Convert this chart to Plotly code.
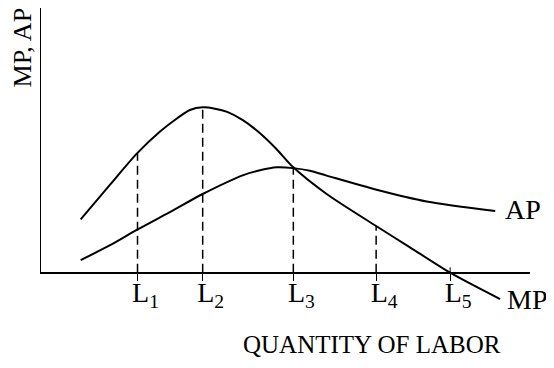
"""
Marginal product (MP) and average product (AP) of labor, drawn as the
classic textbook diagram: MP peaks first, cuts AP at AP's maximum, and
then falls through zero.
"""

import plotly.graph_objects as go

# quantity of labor (x) and product (y), in arbitrary chart units
MP_X = [0.83, 1.43, 1.99, 2.45, 2.80, 3.06, 3.32, 3.57, 3.82, 4.14, 4.49,
        4.83, 5.17, 5.85, 6.86, 7.55, 8.37, 9.39]
MP_Y = [2.00, 3.30, 4.49, 5.29, 5.79, 6.10, 6.20, 6.15, 6.03, 5.72, 5.23,
        4.63, 3.95, 2.95, 1.75, 0.95, 0.00, -0.99]

AP_X = [0.83, 1.43, 1.99, 2.65, 3.32, 4.15, 4.49, 4.83, 5.17, 5.51, 5.85,
        6.87, 7.89, 9.29]
AP_Y = [0.47, 1.03, 1.62, 2.27, 2.95, 3.66, 3.84, 3.95, 3.92, 3.82, 3.64,
        3.11, 2.67, 2.31]

L_TICKS = [1.99, 3.32, 5.17, 6.86, 8.37]
L_LABELS = ["L<sub>1</sub>", "L<sub>2</sub>", "L<sub>3</sub>", "L<sub>4</sub>", "L<sub>5</sub>"]
# MP read at L1..L4, where the dashed drop lines start
DROP_Y = [4.49, 6.20, 3.95, 1.75]

X_RANGE = [0, 10]
Y_RANGE = [-1.10, 9.925]

FONT = "Liberation Serif, Times New Roman, serif"
INK = "black"

# the page body keeps its default 8px margin; keep the figure small
# enough that the window never scrolls
FIG_W, FIG_H = 538, 352


def drop_lines():
    xs, ys = [], []
    for x, y in zip(L_TICKS, DROP_Y):
        xs += [x, x, None]
        ys += [0, y, None]
    return xs, ys


fig = go.Figure()

dx, dy = drop_lines()
fig.add_trace(go.Scatter(
    x=dx, y=dy, mode="lines",
    line=dict(color=INK, width=1.5, dash="9px,5px"),
    hoverinfo="skip", showlegend=False,
))
fig.add_trace(go.Scatter(
    x=MP_X, y=MP_Y, mode="lines", name="MP",
    line=dict(color=INK, width=2, shape="spline", smoothing=0.8),
    showlegend=False,
))
fig.add_trace(go.Scatter(
    x=AP_X, y=AP_Y, mode="lines", name="AP",
    line=dict(color=INK, width=2, shape="spline", smoothing=0.8),
    showlegend=False,
))

# y axis stops at the x axis, so draw it as a shape
fig.add_shape(type="line", x0=0, x1=0, y0=0, y1=Y_RANGE[1],
              xref="x", yref="y", line=dict(color=INK, width=2))
# L5 tick crosses the axis (nothing above it otherwise)
fig.add_shape(type="line", x0=L_TICKS[4], x1=L_TICKS[4], y0=0, y1=0.2,
              xref="x", yref="y", line=dict(color=INK, width=1))

fig.add_annotation(x=AP_X[-1], y=AP_Y[-1], text="AP", showarrow=False,
                   xanchor="left", yanchor="middle", xshift=8, yshift=2,
                   font=dict(family=FONT, size=28, color=INK))
fig.add_annotation(x=MP_X[-1], y=MP_Y[-1], text="MP", showarrow=False,
                   xanchor="left", yanchor="middle", xshift=5, yshift=0,
                   font=dict(family=FONT, size=28, color=INK))
fig.add_annotation(x=0.677, y=-0.146, xref="paper", yref="paper",
                   text="QUANTITY OF LABOR", showarrow=False,
                   xanchor="center", yanchor="middle",
                   font=dict(family=FONT, size=25, color=INK))
fig.add_annotation(x=0, y=0.866, xref="paper", yref="paper",
                   text="MP, AP", textangle=-90, showarrow=False,
                   xanchor="center", yanchor="middle", xshift=-18,
                   font=dict(family=FONT, size=26, color=INK))

x_axis_pos = (0 - Y_RANGE[0]) / (Y_RANGE[1] - Y_RANGE[0])

fig.update_layout(
    width=FIG_W, height=FIG_H,
    margin=dict(l=32, r=16, t=0, b=58),
    paper_bgcolor="white", plot_bgcolor="white",
    xaxis=dict(
        range=X_RANGE, anchor="free", position=x_axis_pos,
        showgrid=False, zeroline=False,
        showline=True, linecolor=INK, linewidth=2,
        ticks="outside", ticklen=7, tickwidth=1, tickcolor=INK,
        tickvals=L_TICKS, ticktext=L_LABELS,
        ticklabelshift=8, ticklabelstandoff=-12,
        tickfont=dict(family=FONT, size=28, color=INK),
    ),
    yaxis=dict(range=Y_RANGE, visible=False),
)

fig.write_html("out.html")
